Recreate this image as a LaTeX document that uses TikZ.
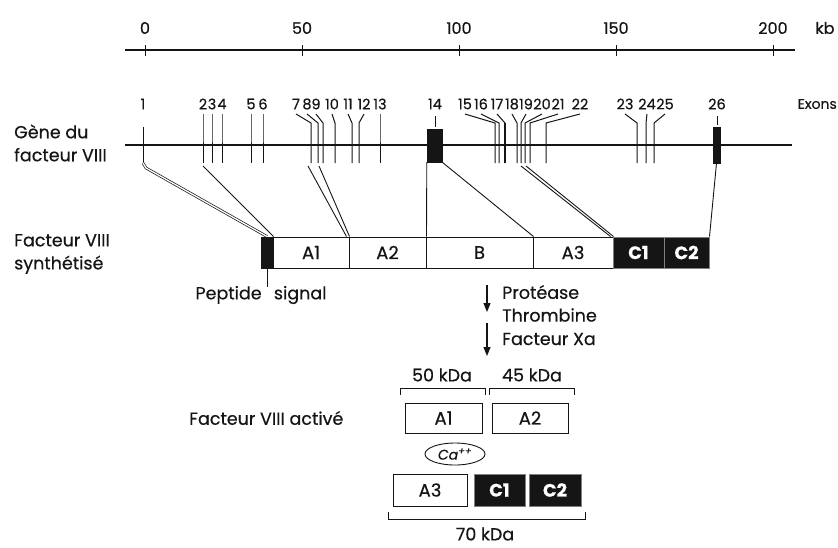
\documentclass[tikz,border=0pt]{standalone}
\usepackage{fontspec}
\setmainfont{Poppins}[FakeBold=0.5]
\usetikzlibrary{arrows.meta,shapes.geometric}
\definecolor{ink}{HTML}{151515}
\tikzset{
  every node/.style={text=ink},
  thinl/.style={draw=ink, line width=0.9pt},
  exonl/.style={draw=ink, line width=1pt},
  genel/.style={draw=ink, line width=1.6pt},
  seg/.style={draw=ink, line width=1pt, fill=white, minimum height=31pt, inner sep=0pt, font=\fontsize{18}{20}\selectfont},
  dseg/.style={seg, fill=ink, draw=gray, text=white, font=\fontsize{18}{20}\selectfont\bfseries},
  lbl/.style={font=\fontsize{17.5}{23}\selectfont, align=left, anchor=west, inner sep=0pt},
  txt/.style={font=\fontsize{17.5}{20}\selectfont, inner sep=0pt},
  num/.style={font=\fontsize{14.5}{16}\selectfont, inner sep=0pt},
  snum/.style={font=\fontsize{16}{18}\selectfont, inner sep=0pt},
  arr/.style={draw=ink, line width=1.1pt, -{Triangle[width=7pt,length=9pt]}},
}
\begin{document}
\begin{tikzpicture}[x=1pt,y=-1pt]
\useasboundingbox (0,0) rectangle (838,547);
% scale
\coordinate (sL) at (125,50); \coordinate (sR) at (795,50);
\draw[thinl, line width=1.1pt] (sL) -- (sR);
\foreach \v/\x in {0/145,50/302,100/459,150/616,200/773}{
  \coordinate (t\v) at (\x,50);
  \draw[thinl] (\x,45) -- (\x,56);
  \node[snum] (l\v) at (\x,28) {\v};
}
\node[snum] (kb) at (825,28) {kb};
% gene
\node[lbl] (gene) at (14,143) {Gène du\\facteur VIII};
\coordinate (gL) at (125,145); \coordinate (gR) at (792,145);
\draw[genel] (gL) -- (gR);
\node[num] (x1) at (143,104) {1};
\coordinate (e1) at (143,163);
\draw[exonl] (143,127) -- (e1);
\foreach \lab/\lx/\ex in {2/203/203,3/212/212,4/222/222,5/251/251,6/263/263,
  7/296/311,8/307/318,9/316/323,10/332/335,11/348/352,12/364/359,13/380/380,
  15/465/495,16/481/499,17/497/505,18/512/517,19/526/521,20/542/525,21/558/530,22/580/546,
  23/625/637,24/647/646,25/665/654}{
  \node[num] (x\lab) at (\lx,104) {\lab};
  \coordinate (e\lab) at (\ex,163);
  \draw[exonl] (\lx,114) -- (\ex,123) -- (e\lab);
}
\draw[exonl, line width=1.8pt] (505,123) -- (505,163);
\node[num] (x14) at (435,104) {14};
\draw[exonl] (435,116) -- (435,127);
\node[draw=ink, fill=ink, minimum width=15pt, minimum height=33pt, inner sep=0pt] (e14) at (434.5,145.5) {};
\node[num] (x26) at (717,104) {26};
\draw[exonl] (717,116) -- (717,125);
\node[draw=ink, fill=ink, minimum width=7pt, minimum height=36pt, inner sep=0pt] (e26) at (716.5,145) {};
\node[font=\fontsize{14}{16}\selectfont, inner sep=0pt, anchor=east] (exons) at (837,104) {Exons};
% protein
\node[lbl] (synt) at (14,254) {Facteur VIII\\synthétisé};
\node[seg, fill=ink, minimum width=12pt] (SP) at (267,252.5) {};
\node[seg, minimum width=76pt] (A1) at (311,252.5) {A1};
\node[seg, minimum width=77pt] (A2) at (387.5,252.5) {A2};
\node[seg, minimum width=107pt] (B) at (479.5,252.5) {B};
\node[seg, minimum width=80pt] (A3) at (573,252.5) {A3};
\node[dseg, minimum width=51pt] (C1) at (638.5,252.5) {C1};
\node[dseg, minimum width=45pt] (C2) at (686.5,252.5) {C2};
% connectors gene -> protein
\draw[draw=ink, line width=0.7pt, double=white, double distance=1.3pt] (e1) -- (146,168) -- (SP.north);
\draw[thinl] (203,166) -- (SP.north east);
\draw[thinl] (308,166) -- ([xshift=-3pt]A1.north east);
\draw[thinl] (319,166) -- (A1.north east);
\draw[thinl] (e14.south west) -- (A2.north east);
\draw[thinl] (e14.south east) -- (B.north east);
\draw[thinl] (521,166) -- ([xshift=-3pt]A3.north east);
\draw[thinl] (526,166) -- (A3.north east);
\draw[thinl] (e26.south) -- (C2.north east);
% signal peptide label
\node[txt] (pep) at (261,295) {Peptide\hspace{0.7em}signal};
\draw[thinl, line width=0.7pt] (SP.south) -- (267,287);
% cleavage
\coordinate (a1s) at (487,285); \coordinate (a1e) at (487,312);
\coordinate (a2s) at (487,323); \coordinate (a2e) at (487,356);
\draw[arr] (a1s) -- (a1e);
\draw[arr] (a2s) -- (a2e);
\node[txt, anchor=west] (prot) at (502,292) {Protéase};
\node[txt, anchor=west] (thr) at (502,315) {Thrombine};
\node[txt, anchor=west] (fxa) at (502,339) {Facteur Xa};
% activated
\node[txt, anchor=west] (act) at (189,418) {Facteur VIII activé};
\node[txt] (k50) at (442,375) {50 kDa};
\node[txt] (k45) at (532,375) {45 kDa};
\draw[thinl] (400,395) -- (400,388) -- (485,388) -- (485,395);
\draw[thinl] (489,395) -- (489,388) -- (574,388) -- (574,395);
\node[seg, minimum width=77pt, minimum height=30pt, line width=0.9pt] (A1b) at (443.5,418) {A1};
\node[seg, minimum width=76pt, minimum height=30pt, line width=0.9pt] (A2b) at (530,418) {A2};
\node[draw=ink, line width=0.9pt, ellipse, minimum width=60pt, minimum height=22pt, inner sep=0pt, font=\fontsize{14}{16}\selectfont\itshape] (ca) at (455,454) {Ca\textsuperscript{++}};
\node[seg, minimum width=74pt, minimum height=32pt, line width=0.9pt] (A3b) at (430,490) {A3};
\node[dseg, minimum width=51pt, minimum height=32pt] (C1b) at (499.5,490) {C1};
\node[dseg, minimum width=52pt, minimum height=32pt] (C2b) at (555,490) {C2};
\draw[thinl] (388,512) -- (388,519) -- (585,519) -- (585,512);
\node[txt] (k70) at (485,534) {70 kDa};
\end{tikzpicture}
\end{document}
